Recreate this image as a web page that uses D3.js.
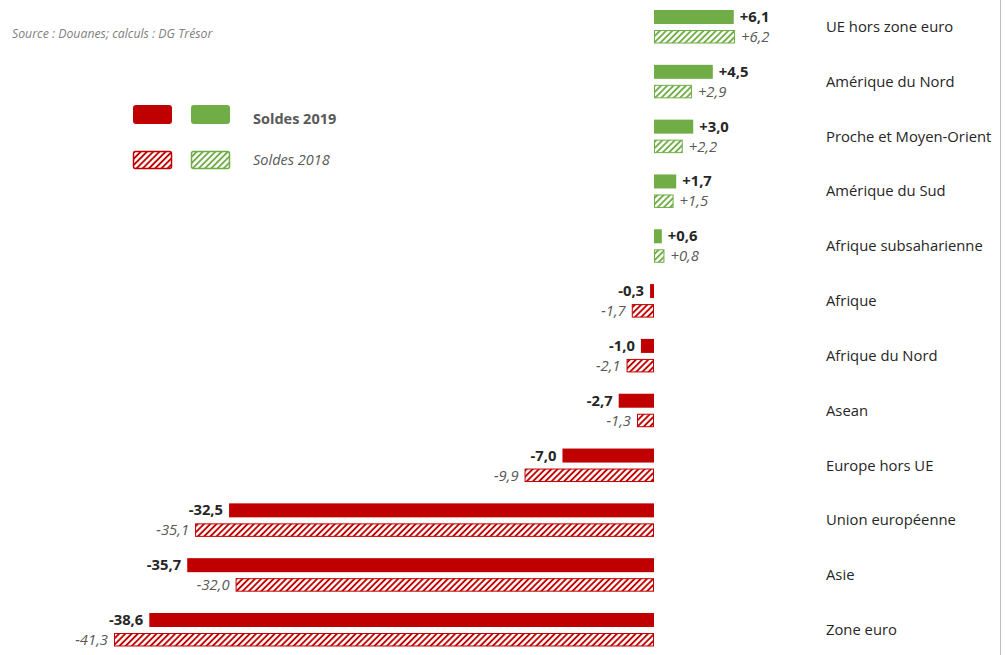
<!DOCTYPE html>
<html>
<head>
<meta charset="utf-8">
<script src="https://cdn.jsdelivr.net/npm/d3@7"></script>
<style>
  body { margin: 0; background: #fff; }
  svg { font-family: "Open Sans", sans-serif; }
</style>
</head>
<body>
<div id="chart"></div>
<script>
// Data
const categories = ['UE hors zone euro', 'Amérique du Nord', 'Proche et Moyen-Orient', 'Amérique du Sud',
  'Afrique subsaharienne', 'Afrique', 'Afrique du Nord', 'Asean', 'Europe hors UE',
  'Union européenne', 'Asie', 'Zone euro']
const soldes2019 = [6.1, 4.5, 3.0, 1.7, 0.6, -0.3, -1.0, -2.7, -7.0, -32.5, -35.7, -38.6]
const soldes2018 = [6.2, 2.9, 2.2, 1.5, 0.8, -1.7, -2.1, -1.3, -9.9, -35.1, -32.0, -41.3]
const legendLabels = ['Soldes 2019', 'Soldes 2018']

const width = 1005, height = 655
const red = '#c00000', green = '#70ad47'

const svg = d3.select('#chart').append('svg')
    .attr('width', width)
    .attr('height', height)

// hatch patterns
const defs = svg.append('defs')
function hatch (id, color) {
    let s = 4.4
    let p = defs.append('pattern')
        .attr('id', id)
        .attr('patternUnits', 'userSpaceOnUse')
        .attr('width', s)
        .attr('height', s)
        .attr('patternTransform', 'rotate(45)')
    p.append('rect').attr('width', s).attr('height', s).attr('fill', color)
    p.append('line')
        .attr('x1', s / 2).attr('x2', s / 2).attr('y1', 0).attr('y2', s)
        .attr('stroke', '#fff').attr('stroke-width', 2.5)
}
hatch('hatch-red', red)
hatch('hatch-green', green)

const fmt = v => (v > 0 ? '+' : '') + d3.format('.1f')(v).replace('.', ',').replace('−', '-')

// scales
const x = d3.scaleLinear().domain([-41.3, 0]).range([114, 654])
const y = d3.scaleBand().domain(categories).range([-0.4, 657.4])
const cy = c => y(c) + y.bandwidth() / 2

const rows = categories.map((c, i) => ({c: c, v19: soldes2019[i], v18: soldes2018[i]}))

// 2019 bars
svg.selectAll('.bar19').data(rows).enter().append('rect')
    .attr('class', 'bar19')
    .attr('x', d => Math.min(x(0), x(d.v19)))
    .attr('y', d => cy(d.c) - 17)
    .attr('width', d => Math.abs(x(d.v19) - x(0)))
    .attr('height', 14)
    .attr('fill', d => d.v19 < 0 ? red : green)

// 2018 bars (hatched)
svg.selectAll('.bar18').data(rows).enter().append('rect')
    .attr('class', 'bar18')
    .attr('x', d => Math.min(x(0), x(d.v18)) + 0.5)
    .attr('y', d => cy(d.c) + 3.5)
    .attr('width', d => Math.abs(x(d.v18) - x(0)) - 1)
    .attr('height', 12.5)
    .attr('fill', d => d.v18 < 0 ? 'url(#hatch-red)' : 'url(#hatch-green)')
    .attr('stroke', d => d.v18 < 0 ? red : green)
    .attr('stroke-width', 1)

// value labels
svg.selectAll('.lab19').data(rows).enter().append('text')
    .attr('x', d => x(d.v19) + (d.v19 < 0 ? -6 : 6))
    .attr('y', d => cy(d.c) - 5)
    .attr('text-anchor', d => d.v19 < 0 ? 'end' : 'start')
    .attr('font-size', 14.8)
    .attr('font-weight', 'bold')
    .attr('fill', '#262626')
    .text(d => fmt(d.v19))

svg.selectAll('.lab18').data(rows).enter().append('text')
    .attr('x', d => x(d.v18) + (d.v18 < 0 ? -6 : 6))
    .attr('y', d => cy(d.c) + 15)
    .attr('text-anchor', d => d.v18 < 0 ? 'end' : 'start')
    .attr('font-size', 14.8)
    .attr('font-style', 'italic')
    .attr('fill', '#595959')
    .text(d => fmt(d.v18))

// category labels
svg.selectAll('.cat').data(categories).enter().append('text')
    .attr('x', 826)
    .attr('y', d => cy(d) + 5)
    .attr('font-size', 14.8)
    .attr('fill', '#262626')
    .text(d => d)

// source
svg.append('text')
    .attr('x', 12).attr('y', 38)
    .attr('font-size', 12.3)
    .attr('font-style', 'italic')
    .attr('fill', '#7f7f7f')
    .text('Source : Douanes; calculs : DG Trésor')

// legend
const lg = svg.append('g')
;[[red, 133], [green, 191]].forEach(function (d) {
    lg.append('rect').attr('x', d[1]).attr('y', 105).attr('width', 39).attr('height', 19)
        .attr('rx', 3).attr('fill', d[0])
    lg.append('rect').attr('x', d[1] + 0.5).attr('y', 151.5).attr('width', 38).attr('height', 17)
        .attr('rx', 2)
        .attr('fill', d[0] === red ? 'url(#hatch-red)' : 'url(#hatch-green)')
        .attr('stroke', d[0]).attr('stroke-width', 1.5)
})
lg.append('text').attr('x', 253).attr('y', 124).attr('font-size', 14.5)
    .attr('font-weight', 'bold').attr('fill', '#595959').text(legendLabels[0])
lg.append('text').attr('x', 253).attr('y', 165).attr('font-size', 14.5)
    .attr('font-style', 'italic').attr('fill', '#595959').text(legendLabels[1])

// right edge frame line
svg.append('line').attr('x1', 1000.5).attr('x2', 1000.5).attr('y1', 0).attr('y2', height)
    .attr('stroke', '#bfbfbf').attr('stroke-width', 1)
</script>
</body>
</html>
